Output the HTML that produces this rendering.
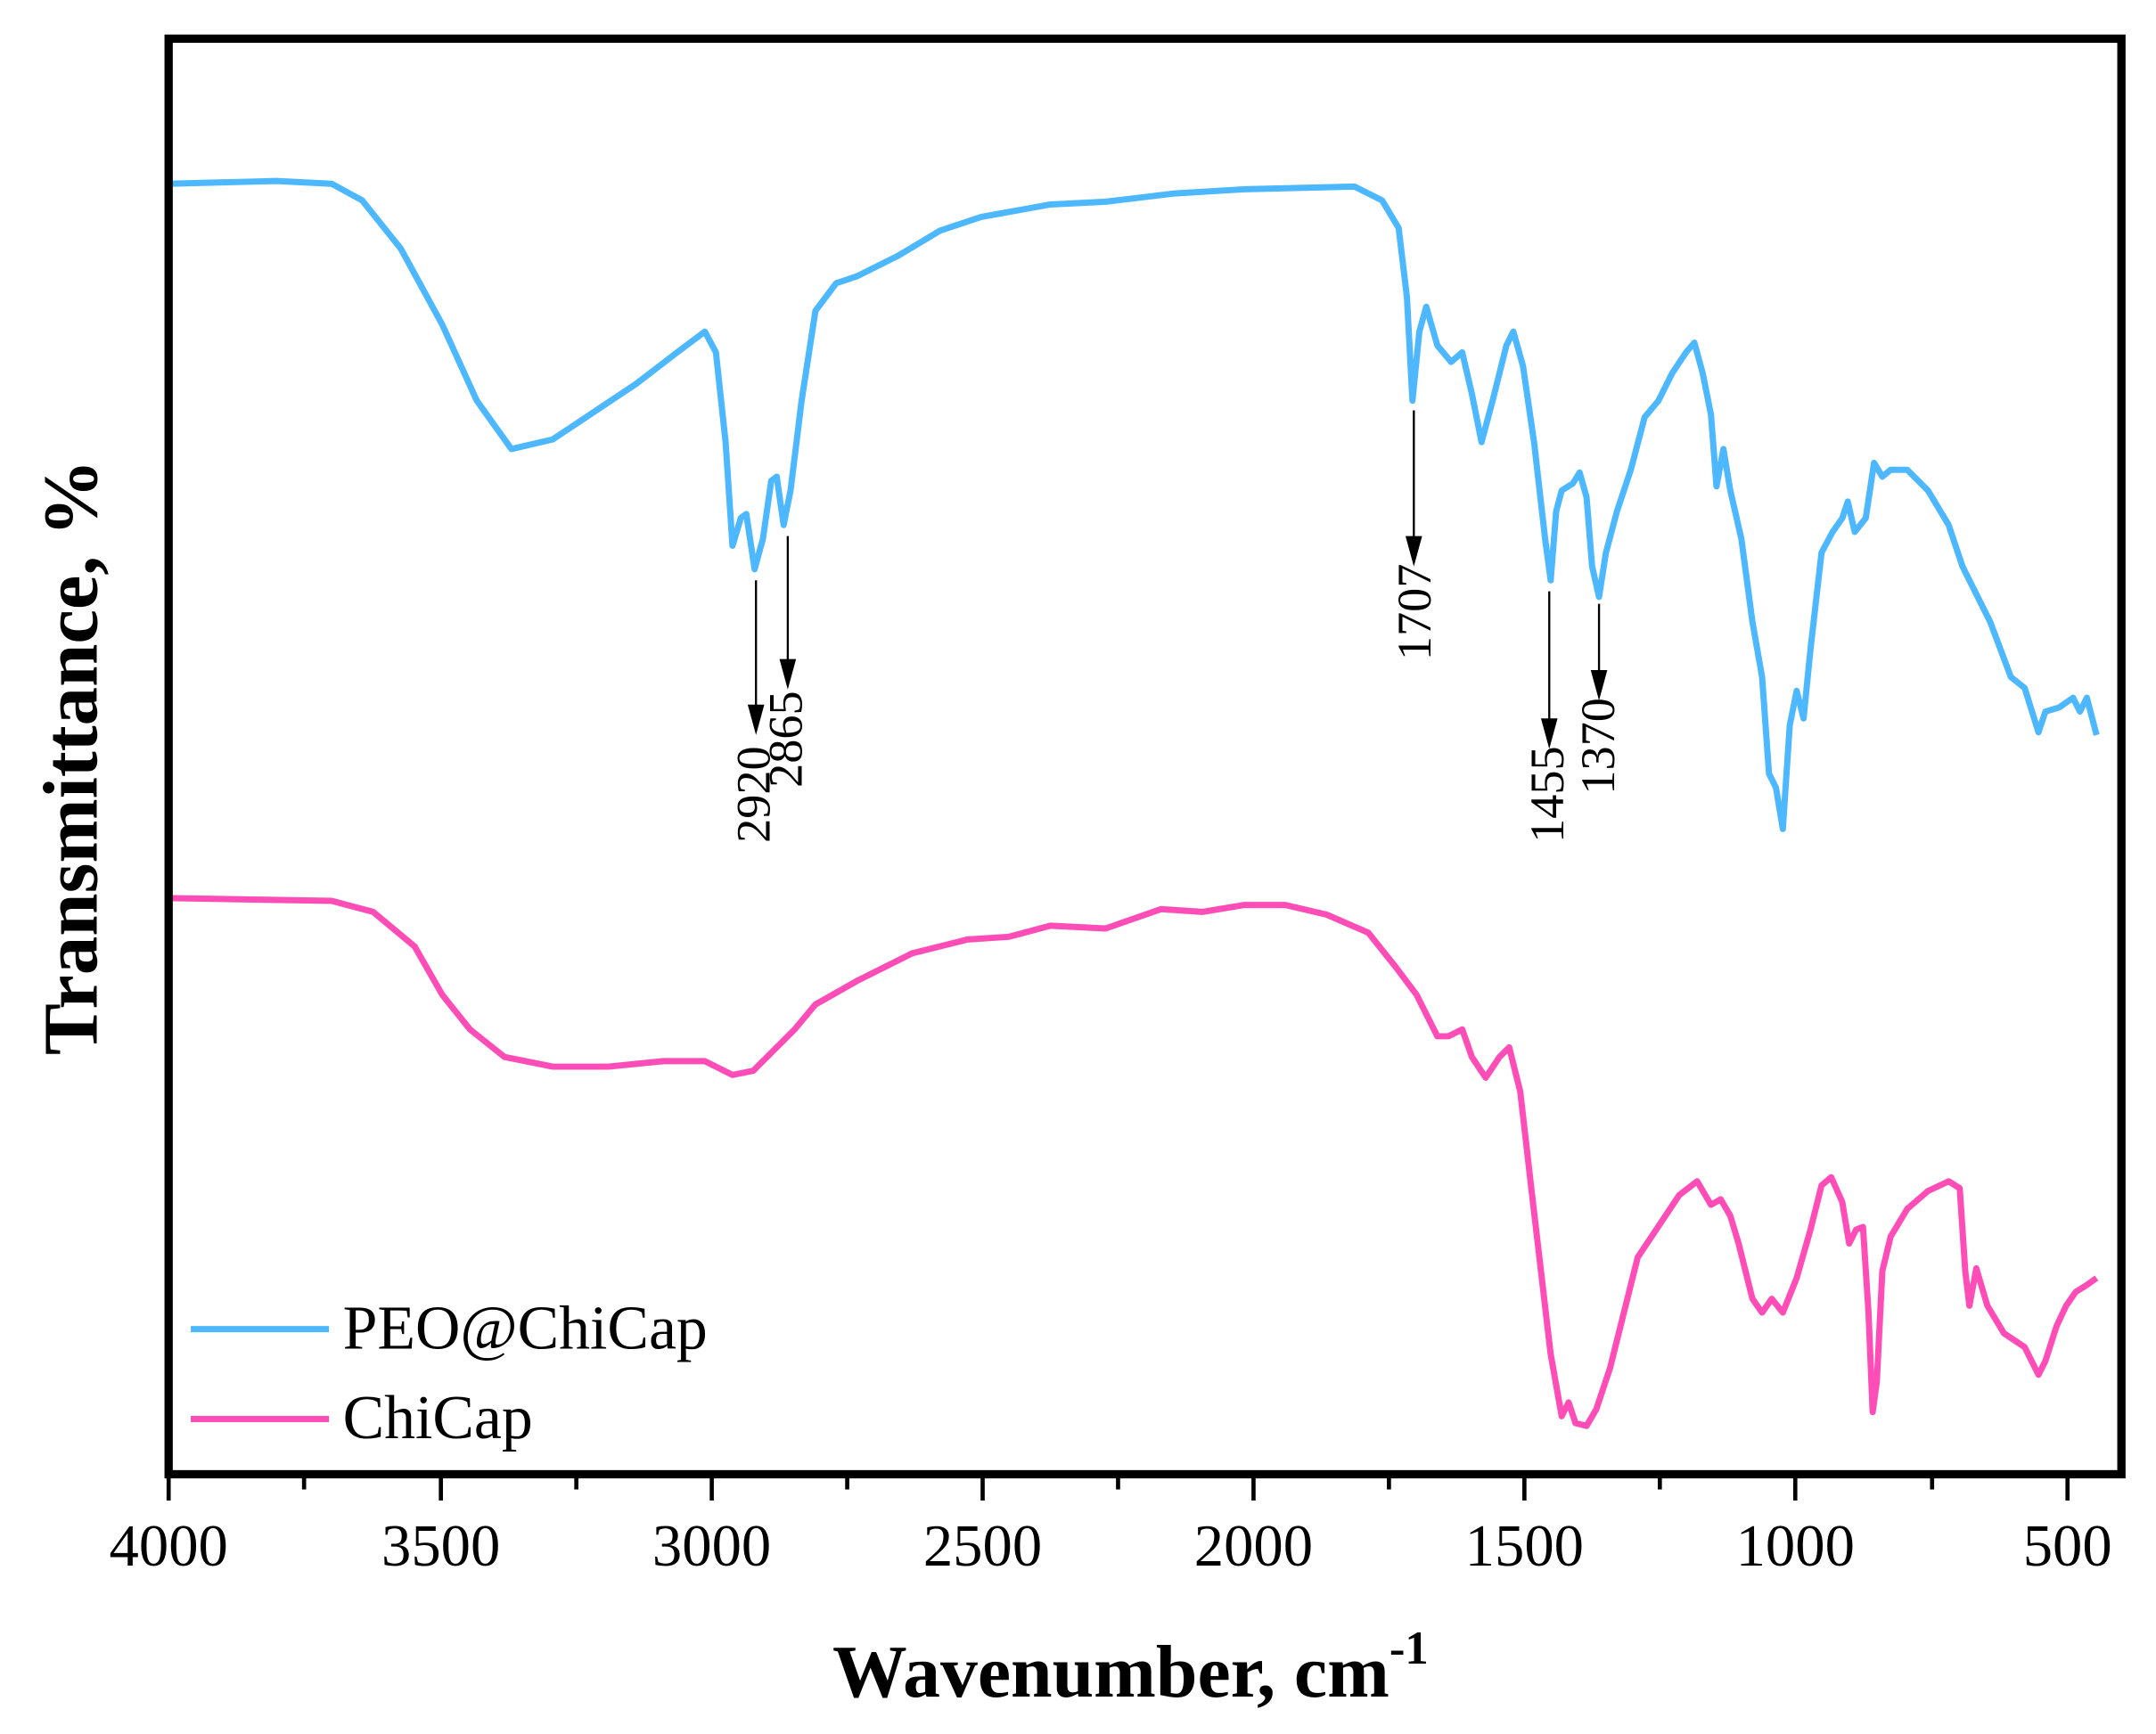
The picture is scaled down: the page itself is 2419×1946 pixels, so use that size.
<!DOCTYPE html>
<html><head><meta charset="utf-8"><style>html,body{margin:0;padding:0;background:#fff}svg{display:block}</style></head>
<body>
<svg width="2419" height="1946" viewBox="0 0 1560 1255" xmlns="http://www.w3.org/2000/svg" font-family="'Liberation Serif', serif">
<rect width="1560" height="1255" fill="#fff"/>
<polyline fill="none" stroke="#4DB8FF" stroke-width="4.5" stroke-linejoin="round" points="122,133 200,131 240,133 262,145 290,180 320,235 345,290 370,325 400,318 430,298 460,278 490,255 510,240 518,255 525,320 530,395 536,375 540,372 546,412 552,390 558,348 562,345 567,380 572,355 580,290 590,225 605,205 620,200 650,185 680,167 710,157 760,148 800,146 850,140 900,137 980,135 1000,145 1012,165 1018,215 1022,290 1027,240 1032,222 1040,250 1050,262 1058,255 1065,285 1072,320 1080,290 1090,250 1095,240 1102,265 1110,320 1118,390 1122,420 1126,370 1130,355 1138,350 1143,342 1148,360 1152,410 1157,432 1162,400 1170,370 1180,340 1190,302 1200,290 1210,270 1220,255 1226,248 1232,270 1238,300 1242,352 1247,325 1252,355 1260,390 1268,450 1275,490 1280,560 1285,570 1290,600 1295,525 1300,500 1305,520 1310,470 1318,400 1326,385 1333,375 1337,363 1342,385 1350,375 1356,335 1362,345 1368,340 1380,340 1395,355 1410,380 1420,410 1440,450 1455,490 1465,498 1475,530 1480,515 1490,512 1500,505 1505,515 1510,505 1517,532"/>
<polyline fill="none" stroke="#FF4DB8" stroke-width="4.5" stroke-linejoin="round" points="122,650 240,652 270,660 300,685 320,720 340,745 365,765 400,772 440,772 480,768 510,768 530,778 545,775 560,760 575,745 590,727 620,710 660,690 700,680 730,678 760,670 800,672 840,658 870,660 900,655 930,655 960,662 990,675 1010,700 1025,720 1040,750 1048,750 1058,745 1065,765 1075,780 1085,765 1092,758 1100,790 1108,860 1115,920 1122,980 1130,1025 1135,1015 1140,1030 1148,1032 1155,1020 1165,990 1175,950 1185,910 1195,895 1205,880 1215,865 1228,855 1238,872 1245,868 1252,880 1258,900 1268,940 1275,950 1282,940 1290,950 1300,925 1310,890 1318,858 1325,852 1333,870 1338,900 1343,890 1348,888 1352,950 1355,1022 1358,1000 1362,920 1368,895 1380,875 1395,862 1410,855 1418,860 1422,920 1425,945 1430,918 1438,945 1450,965 1465,975 1475,995 1480,985 1488,960 1495,945 1502,935 1510,930 1517,925"/>
<rect x="122" y="28" width="1413" height="1039" fill="none" stroke="#000" stroke-width="6"/>
<g stroke="#000" stroke-width="3">
<line x1="122" y1="1067" x2="122" y2="1086"/><line x1="220" y1="1067" x2="220" y2="1078"/>
<line x1="319" y1="1067" x2="319" y2="1086"/><line x1="417" y1="1067" x2="417" y2="1078"/>
<line x1="515" y1="1067" x2="515" y2="1086"/><line x1="613" y1="1067" x2="613" y2="1078"/>
<line x1="711" y1="1067" x2="711" y2="1086"/><line x1="809" y1="1067" x2="809" y2="1078"/>
<line x1="907" y1="1067" x2="907" y2="1086"/><line x1="1005" y1="1067" x2="1005" y2="1078"/>
<line x1="1103" y1="1067" x2="1103" y2="1086"/><line x1="1201" y1="1067" x2="1201" y2="1078"/>
<line x1="1299" y1="1067" x2="1299" y2="1086"/><line x1="1398" y1="1067" x2="1398" y2="1078"/>
<line x1="1496" y1="1067" x2="1496" y2="1086"/>
</g>
<g font-size="43" text-anchor="middle" fill="#000">
<text x="122" y="1133">4000</text><text x="319" y="1133">3500</text><text x="515" y="1133">3000</text>
<text x="711" y="1133">2500</text><text x="907" y="1133">2000</text><text x="1103" y="1133">1500</text>
<text x="1299" y="1133">1000</text><text x="1496" y="1133">500</text>
</g>
<text x="818" y="1228" font-size="54" font-weight="bold" text-anchor="middle">Wavenumber, cm<tspan font-size="34" dy="-24">-1</tspan></text>
<text transform="translate(70,548) rotate(-90)" font-size="56" font-weight="bold" text-anchor="middle">Transmittance, %</text>
<line x1="138" y1="962" x2="238" y2="962" stroke="#4DB8FF" stroke-width="4.5"/>
<line x1="138" y1="1027" x2="238" y2="1027" stroke="#FF4DB8" stroke-width="4.5"/>
<text x="248" y="976" font-size="45">PEO@ChiCap</text>
<text x="248" y="1041" font-size="45">ChiCap</text>
<g stroke="#000" stroke-width="1.5">
<line x1="547" y1="420" x2="547" y2="512"/><line x1="570" y1="388" x2="570" y2="480"/>
<line x1="1023" y1="297" x2="1023" y2="390"/><line x1="1121" y1="428" x2="1121" y2="522"/>
<line x1="1157" y1="437" x2="1157" y2="488"/>
</g>
<g fill="#000">
<polygon points="541,510 553,510 547,532"/><polygon points="564,477 576,477 570,499"/>
<polygon points="1017,388 1029,388 1023,410"/><polygon points="1115,520 1127,520 1121,542"/>
<polygon points="1151,485 1163,485 1157,507"/>
</g>
<g font-size="35" fill="#000">
<text transform="translate(557,610) rotate(-90)">2920</text>
<text transform="translate(580,570) rotate(-90)">2865</text>
<text transform="translate(1035,478) rotate(-90)">1707</text>
<text transform="translate(1131,610) rotate(-90)">1455</text>
<text transform="translate(1168,575) rotate(-90)">1370</text>
</g>
</svg>
</body></html>
